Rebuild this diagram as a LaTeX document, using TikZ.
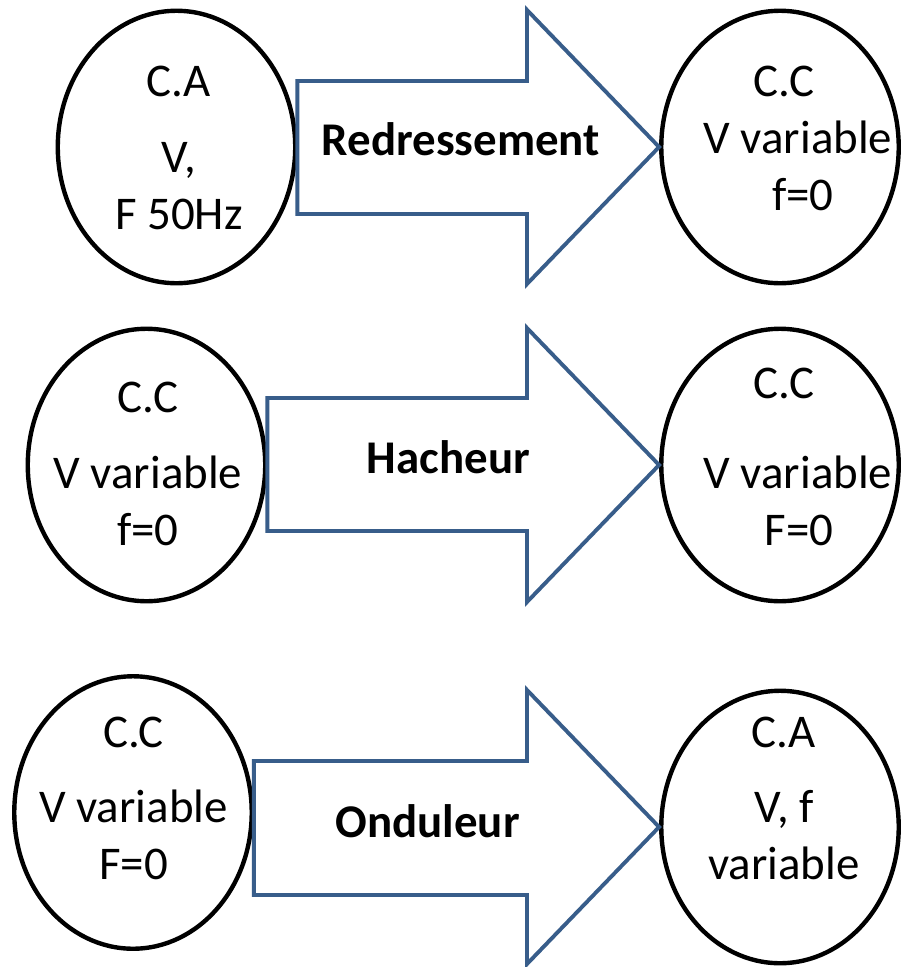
\documentclass[tikz,border=0pt]{standalone}
\usepackage{fontspec}
\setmainfont{Carlito}
\usetikzlibrary{shapes.geometric}
\definecolor{bleu}{HTML}{385D8A}

\begin{document}
\begin{tikzpicture}[x=0.02cm,y=-0.02cm,
    fleche/.style={draw=bleu,line width=2.2pt,line join=miter}]
\fill[white] (0,0) rectangle (900,967);
\useasboundingbox (0,0) rectangle (900,967);

\begin{scope}[every node/.style={ellipse,draw=black,line width=2.5pt,
              minimum width=4.75cm,minimum height=5.45cm,inner sep=0pt}]
    \node (L1) at (176.5,147) {};
    \node (R1) at (780,147) {};
    \node (L2) at (146.5,465) {};
    \node (R2) at (780,465) {};
    \node (L3) at (133,812.5) {};
    \node (R3) at (780,827) {};
\end{scope}

% fleches
\draw[fleche] (L1.east |- 0,81) -- (527,81) -- (527,10) -- (R1.west)
    -- (527,284) -- (527,214) -- (L1.east |- 0,214) -- cycle;
\draw[fleche] (L2.east |- 0,398) -- (527,398) -- (527,328) -- (R2.west)
    -- (527,602) -- (527,531) -- (L2.east |- 0,531) -- cycle;
\draw[fleche] (L3.east |- 0,761) -- (527,761) -- (527,690) -- (R3.west)
    -- (527,964) -- (527,895) -- (L3.east |- 0,895) -- cycle;

\begin{scope}[every node/.style={align=center,inner sep=0pt,anchor=north,
              font=\fontsize{26.7}{32.4}\selectfont}]
    \node (L1txt) at (179,66) {C.A\\[0.38cm]V,\\F 50Hz};
    \node (R1txt) at (784,66) {C.C\\\hspace*{0.56cm}V variable\\\hspace*{0.76cm}f=0};
    \node (L2txt) at (148,382) {C.C\\[0.38cm]V variable\\f=0};
    \node (R2txt) at (784,368) {C.C\\[0.66cm]\hspace*{0.56cm}V variable\\\hspace*{0.6cm}F=0};
    \node (L3txt) at (133.5,717) {C.C\\[0.36cm]V variable\\F=0};
    \node (R3txt) at (784,717) {C.A\\[0.36cm]V, f\\variable};
\end{scope}

\begin{scope}[every node/.style={anchor=base,inner sep=0pt,
              font=\bfseries\fontsize{26.7}{32.4}\selectfont}]
    \node (redr) at (461,155) {Redressement};
    \node (hach) at (448.5,473) {Hacheur};
    \node (ondu) at (427.5,837) {Onduleur};
\end{scope}
\end{tikzpicture}
\end{document}
